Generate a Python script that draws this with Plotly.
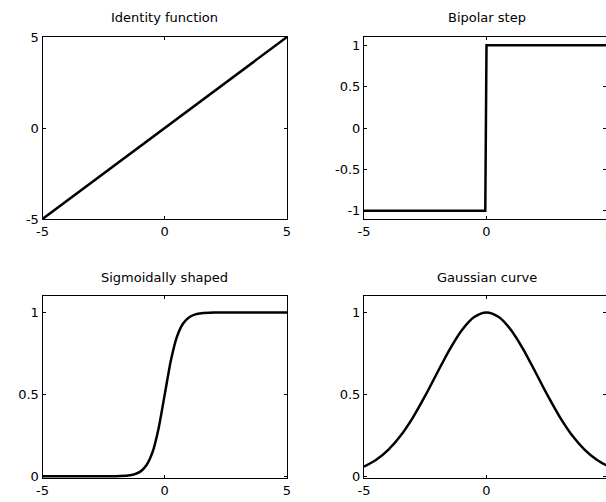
import plotly.graph_objects as go

W, H = 606, 502

# ---- data ----
identity_x = [-5, 5]
identity_y = [-5, 5]

step_x = [-5, -0.05, 0, 5]
step_y = [-1, -1, 1, 1]

sig_x = [-5, -4, -3, -2, -1.5, -1.25, -1, -0.75, -0.5, -0.25, 0,
         0.25, 0.5, 0.75, 1, 1.25, 1.5, 2, 3, 4, 5]
sig_y = [0.0, 0.0, 0.0, 0.001, 0.005, 0.012, 0.029, 0.068, 0.148, 0.294, 0.5,
         0.706, 0.852, 0.932, 0.971, 0.988, 0.995, 0.999, 1.0, 1.0, 1.0]

gauss_x = [-5, -4.5, -4, -3.5, -3, -2.5, -2, -1.5, -1, -0.5, 0,
           0.5, 1, 1.5, 2, 2.5, 3, 3.5, 4, 4.5, 5]
gauss_y = [0.059, 0.101, 0.163, 0.249, 0.36, 0.492, 0.635, 0.775, 0.893, 0.972, 1.0,
           0.972, 0.893, 0.775, 0.635, 0.492, 0.36, 0.249, 0.163, 0.101, 0.059]

titles = ["Identity function", "Bipolar step", "Sigmoidally shaped", "Gaussian curve"]
x_ticks = [-5, 0, 5]
x_ticktext = ["-5", "0", "5"]
yticks_identity = [-5, 0, 5]
yticks_step = [-1, -0.5, 0, 0.5, 1]
yticks_step_text = ["-1", "-0.5", "0", "0.5", "1"]
yticks_unit = [0, 0.5, 1]
yticks_unit_text = ["0", "0.5", "1"]

FONT = "DejaVu Sans, sans-serif"
FS = 13

fig = go.Figure()

line = dict(color="black", width=2.5)
fig.add_trace(go.Scatter(x=identity_x, y=identity_y, mode="lines", line=line, xaxis="x", yaxis="y"))
fig.add_trace(go.Scatter(x=step_x, y=step_y, mode="lines", line=line, xaxis="x2", yaxis="y2"))
fig.add_trace(go.Scatter(x=sig_x, y=sig_y, mode="lines", line=dict(color="black", width=2.5, shape="spline", smoothing=0.6), xaxis="x3", yaxis="y3"))
fig.add_trace(go.Scatter(x=gauss_x, y=gauss_y, mode="lines", line=dict(color="black", width=2.5, shape="spline", smoothing=0.8), xaxis="x4", yaxis="y4"))

# pixel boxes
left_l, left_r = 42.5, 287
right_l, right_r = 364, 606
top_t, top_b = 37, 219
bot_t, bot_b = 296, 478

def dx(a, b):
    return [a / W, b / W]

def dy(t, b):
    return [1 - b / H, 1 - t / H]

ax_common = dict(showline=True, linecolor="black", linewidth=1, mirror="ticks",
                 ticks="inside", ticklen=3, tickcolor="black", tickwidth=1,
                 showgrid=False, zeroline=False, automargin=False,
                 tickfont=dict(family=FONT, size=FS, color="black"))

# right plots: box extends to ~609 px, cut off at 606
right_xmax = 5 - (609 - 606) / ((609 - 364) / 10)

fig.update_layout(
    width=W, height=H, margin=dict(l=0, r=0, t=0, b=0, pad=0),
    paper_bgcolor="white", plot_bgcolor="white", showlegend=False,
    xaxis=dict(domain=dx(left_l, left_r), range=[-5, 5], tickvals=x_ticks, ticktext=x_ticktext, anchor="y", **ax_common),
    yaxis=dict(domain=dy(top_t, top_b), range=[-5, 5], tickvals=yticks_identity, ticktext=x_ticktext, anchor="x", **ax_common),
    xaxis2=dict(domain=dx(right_l, right_r), range=[-5, right_xmax], tickvals=x_ticks, ticktext=x_ticktext, anchor="y2", **ax_common),
    yaxis2=dict(domain=dy(top_t, top_b), range=[-1.1, 1.1], tickvals=yticks_step, ticktext=yticks_step_text, anchor="x2", **ax_common),
    xaxis3=dict(domain=dx(left_l, left_r), range=[-5, 5], tickvals=x_ticks, ticktext=x_ticktext, anchor="y3", **ax_common),
    yaxis3=dict(domain=dy(bot_t, bot_b), range=[-0.01, 1.1], tickvals=yticks_unit, ticktext=yticks_unit_text, anchor="x3", **ax_common),
    xaxis4=dict(domain=dx(right_l, right_r), range=[-5, right_xmax], tickvals=x_ticks, ticktext=x_ticktext, anchor="y4", **ax_common),
    yaxis4=dict(domain=dy(bot_t, bot_b), range=[-0.01, 1.1], tickvals=yticks_unit, ticktext=yticks_unit_text, anchor="x4", **ax_common),
)

# cut-off "5" labels at right edge of right-hand plots (tick at x = 5, just past the window)
for yb in (top_b, bot_b):
    fig.add_annotation(text="5", x=609 / W, xref="paper", y=1 - yb / H, yref="paper",
                       showarrow=False, xanchor="center", yanchor="top", yshift=-1,
                       font=dict(family=FONT, size=FS, color="black"))

# titles
title_pos = [((left_l + left_r) / 2, 18), ((364 + 609) / 2, 18),
             ((left_l + left_r) / 2, 277), ((364 + 609) / 2, 277)]
for t, (px, py) in zip(titles, title_pos):
    fig.add_annotation(text=t, x=px / W, y=1 - py / H, xref="paper", yref="paper",
                       showarrow=False, xanchor="center", yanchor="middle",
                       font=dict(family=FONT, size=FS, color="black"))

fig.write_html("out.html")
